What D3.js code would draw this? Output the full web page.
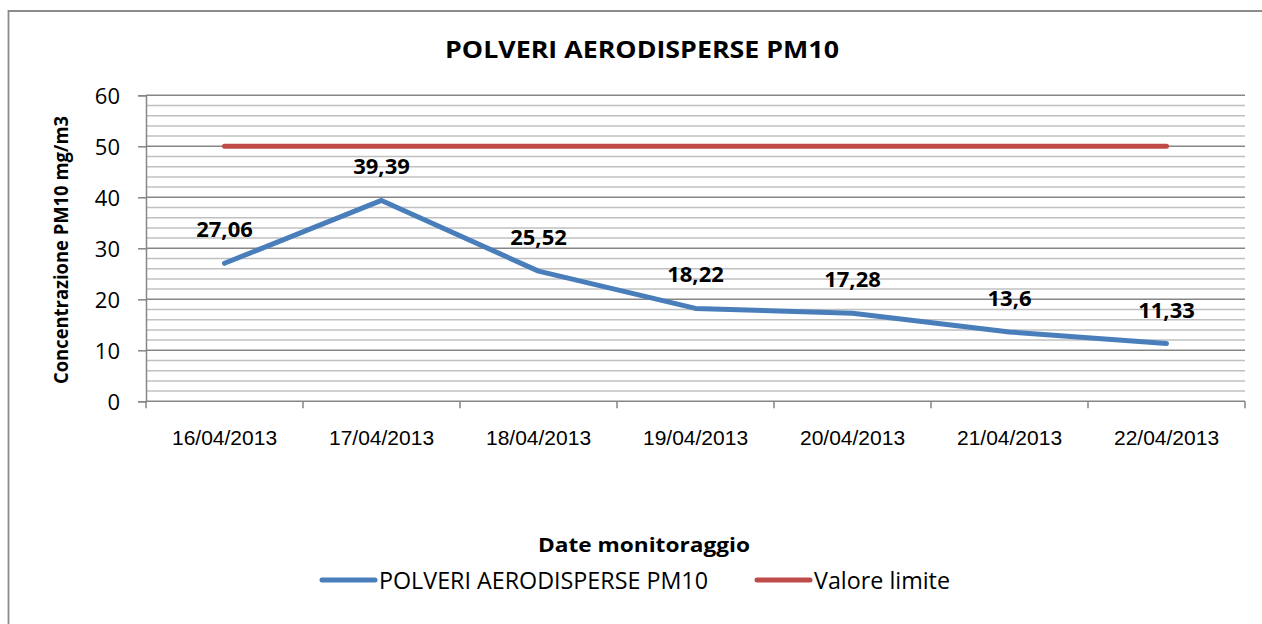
<!DOCTYPE html>
<html><head><meta charset="utf-8">
<script src="https://cdn.jsdelivr.net/npm/d3@7"></script>
<style>html,body{margin:0;padding:0;background:#fff;overflow:hidden;}svg{display:block;}</style>
</head><body>
<script>
const categories = ["16/04/2013","17/04/2013","18/04/2013","19/04/2013","20/04/2013","21/04/2013","22/04/2013"];
const pm10Values = [27.06, 39.39, 25.52, 18.22, 17.28, 13.6, 11.33];
const limitValues = [50, 50, 50, 50, 50, 50, 50];
const yTicks = [0, 10, 20, 30, 40, 50, 60];
const seriesNames = ["POLVERI AERODISPERSE PM10", "Valore limite"];
const title = "POLVERI AERODISPERSE PM10";
const yTitle = "Concentrazione PM10 mg/m3";
const xTitle = "Date  monitoraggio";

const W = 1262, H = 624;
const svg = d3.select("body").append("svg").attr("width", W).attr("height", H);
const m = {l:146, r:1245, t:95.3, b:401.3};
const blue = "#4A7EBB", red = "#BE4B48";
const fontCal = "'Open Sans', 'Noto Sans', sans-serif";

// outer chart border (only top and left are inside the picture)
svg.append("path").attr("d",`M8.5,${H}V11H${W}`).attr("fill","none")
  .attr("stroke","#8c8c8c").attr("stroke-width",1.8);

const x = d3.scaleBand().domain(categories).range([m.l, m.r]);
const y = d3.scaleLinear().domain([0,60]).range([m.b, m.t]);

// minor grid
const minor = d3.range(2, 60, 2).filter(v => v % 10 !== 0);
svg.append("g").selectAll("line").data(minor).join("line")
  .attr("x1", m.l).attr("x2", m.r).attr("y1", d=>y(d)).attr("y2", d=>y(d))
  .attr("stroke","#c0c0c0").attr("stroke-width",1.5);

// y axis
const yAxis = svg.append("g").attr("transform",`translate(${m.l},0)`)
  .call(d3.axisLeft(y).tickValues(yTicks).tickSize(8).tickPadding(18).tickFormat(d3.format("d")));
yAxis.select(".domain").attr("stroke","#868686").attr("stroke-width",1.5);
yAxis.selectAll(".tick line").attr("stroke","#868686").attr("stroke-width",1.5);
yAxis.selectAll(".tick text").attr("font-family",fontCal).attr("font-size",22).attr("fill","#000").attr("dy","0.36em");
svg.append("g").selectAll("line").data(yTicks.filter(d=>d>0)).join("line")
  .attr("x1", m.l).attr("x2", m.r).attr("y1", d=>y(d)).attr("y2", d=>y(d))
  .attr("stroke","#868686").attr("stroke-width",1.5);

// x axis
const xAxisG = svg.append("g").attr("transform",`translate(0,${m.b})`)
  .call(d3.axisBottom(x).tickSize(0).tickPadding(0));
xAxisG.select(".domain").remove();
xAxisG.selectAll(".tick line").remove();
xAxisG.selectAll(".tick text").attr("font-family","'Liberation Sans', Arial, sans-serif")
  .attr("font-size",21).attr("fill","#000").attr("dy",0).attr("y",44);
svg.append("line").attr("x1",m.l).attr("x2",m.r).attr("y1",m.b).attr("y2",m.b)
  .attr("stroke","#868686").attr("stroke-width",1.5);
const bounds = categories.map(c => x(c)).concat([m.r]);
svg.append("g").selectAll("line").data(bounds).join("line")
  .attr("x1",d=>d).attr("x2",d=>d).attr("y1",m.b).attr("y2",m.b+7)
  .attr("stroke","#868686").attr("stroke-width",1.5);

const cx = c => x(c) + x.bandwidth()/2;
const line = d3.line().x((d,i)=>cx(categories[i])).y(d=>y(d));

svg.append("path").datum(limitValues).attr("d",line).attr("fill","none")
  .attr("stroke",red).attr("stroke-width",5).attr("stroke-linecap","round");
svg.append("path").datum(pm10Values).attr("d",line).attr("fill","none")
  .attr("stroke",blue).attr("stroke-width",5).attr("stroke-linecap","round").attr("stroke-linejoin","round");

// data labels
svg.append("g").selectAll("text").data(pm10Values).join("text")
  .attr("x",(d,i)=>cx(categories[i])).attr("y",d=>y(d)-26)
  .attr("text-anchor","middle").attr("font-family",fontCal).attr("font-weight","bold")
  .attr("font-size",22).attr("fill","#000")
  .text(d => String(d).replace(".", ","));

// title
svg.append("text").attr("x",642).attr("y",58).attr("text-anchor","middle")
  .attr("font-family",fontCal).attr("font-weight","bold").attr("font-size",23)
  .attr("textLength",394).attr("lengthAdjust","spacingAndGlyphs").text(title);

// y title
svg.append("text").attr("transform","translate(68,250) rotate(-90)").attr("text-anchor","middle")
  .attr("font-family",fontCal).attr("font-weight","bold").attr("font-size",20)
  .attr("textLength",268).attr("lengthAdjust","spacingAndGlyphs").text(yTitle);

// x title
svg.append("text").attr("x",644).attr("y",552).attr("text-anchor","middle")
  .attr("font-family",fontCal).attr("font-weight","bold").attr("font-size",20)
  .attr("textLength",212).attr("lengthAdjust","spacingAndGlyphs").text(xTitle);

// legend
const legend = [
  {name: seriesNames[0], color: blue, x0: 322, x1: 375, tx: 379, tw: 329},
  {name: seriesNames[1], color: red, x0: 757, x1: 810, tx: 814, tw: 136}
];
const lg = svg.append("g");
legend.forEach(l => {
  lg.append("line").attr("x1",l.x0).attr("x2",l.x1).attr("y1",580).attr("y2",580)
    .attr("stroke",l.color).attr("stroke-width",5).attr("stroke-linecap","round");
  lg.append("text").attr("x",l.tx).attr("y",589).attr("font-family",fontCal)
    .attr("font-size",23).attr("fill","#000")
    .attr("textLength",l.tw).attr("lengthAdjust","spacingAndGlyphs").text(l.name);
});
</script>
</body></html>
